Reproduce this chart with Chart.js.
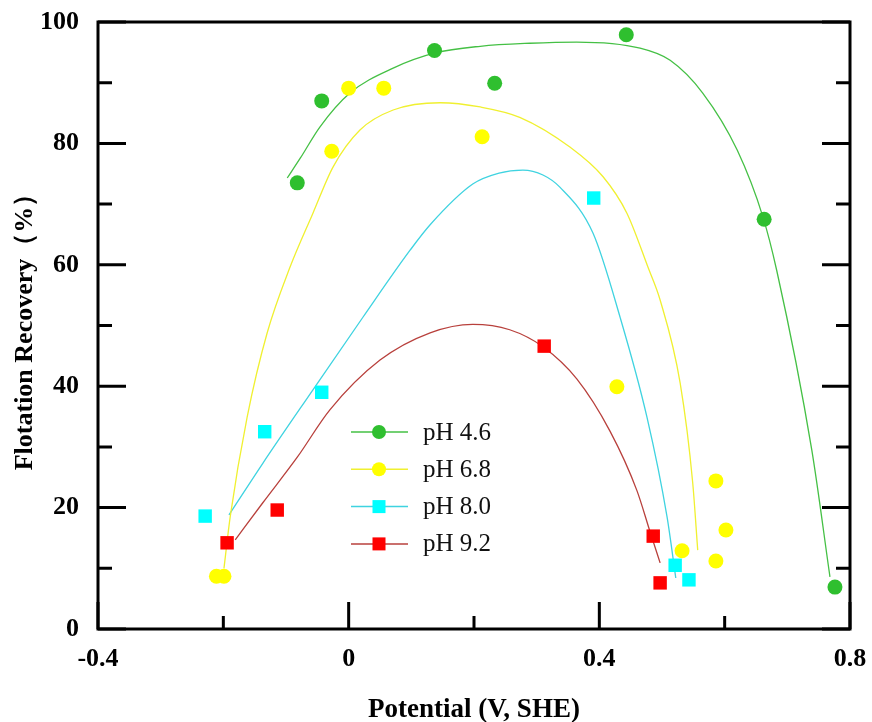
<!DOCTYPE html>
<html>
<head>
<meta charset="utf-8">
<script src="https://cdn.jsdelivr.net/npm/chart.js@4/dist/chart.umd.min.js"></script>
<style>
  html, body { margin: 0; padding: 0; background: #fff; }
  #wrap { width: 872px; height: 722px; }
</style>
</head>
<body>
<div id="wrap"><canvas id="chart" width="872" height="722"></canvas></div>
<script>
// measured recovery, one pair of arrays per pH
var ph46X = [-0.082, -0.043, 0.137, 0.233, 0.443, 0.663, 0.776];
var ph46Y = [73.5, 87.0, 95.3, 89.9, 97.9, 67.5, 6.9];
var ph68X = [-0.211, -0.199, -0.027, 0.0, 0.056, 0.213, 0.428, 0.532, 0.586, 0.586, 0.602];
var ph68Y = [8.7, 8.7, 78.7, 89.1, 89.1, 81.1, 39.9, 12.9, 11.2, 24.4, 16.3];
var ph80X = [-0.229, -0.134, -0.043, 0.391, 0.521, 0.543];
var ph80Y = [18.6, 32.5, 39.0, 71.0, 10.5, 8.1];
var ph92X = [-0.194, -0.114, 0.312, 0.486, 0.497];
var ph92Y = [14.2, 19.6, 46.6, 15.3, 7.6];

// fitted curves
var fit46X = [-0.098, -0.077, -0.046, 0.002, 0.071, 0.138, 0.210, 0.289, 0.364, 0.465, 0.513, 0.565, 0.620, 0.661, 0.683, 0.739, 0.768];
var fit46Y = [74.3, 77.6, 82.7, 88.3, 92.4, 94.9, 96.0, 96.5, 96.7, 95.7, 93.7, 88.3, 78.9, 67.9, 59.1, 29.5, 8.6];
var fit68X = [-0.199, -0.189, -0.162, -0.130, -0.094, -0.057, -0.025, 0.018, 0.071, 0.146, 0.210, 0.273, 0.353, 0.406, 0.444, 0.478, 0.497, 0.529, 0.549, 0.557];
var fit68Y = [10.0, 18.5, 34.9, 48.8, 59.5, 68.5, 76.1, 82.2, 85.5, 86.7, 86.0, 84.3, 79.4, 74.5, 68.5, 59.5, 54.2, 40.5, 24.1, 13.0];
var fit80X = [-0.191, -0.137, -0.057, 0.023, 0.098, 0.130, 0.198, 0.240, 0.278, 0.310, 0.337, 0.390, 0.433, 0.476, 0.508, 0.522];
var fit80Y = [18.8, 27.3, 39.4, 51.4, 62.4, 66.6, 73.3, 75.1, 75.6, 74.8, 72.8, 65.2, 51.4, 34.9, 18.5, 8.4];
var fit92X = [-0.181, -0.137, -0.082, -0.030, 0.050, 0.130, 0.198, 0.257, 0.310, 0.364, 0.417, 0.460, 0.481, 0.497];
var fit92Y = [14.7, 20.8, 28.3, 36.1, 44.3, 48.8, 50.2, 49.3, 46.5, 41.2, 32.6, 22.8, 16.0, 10.9];

var seriesNames = ['pH 4.6', 'pH 6.8', 'pH 8.0', 'pH 9.2'];
var xTicks = [-0.4, 0, 0.4, 0.8];
var xMinor = [-0.2, 0.2, 0.6];
var yTicks = [0, 20, 40, 60, 80, 100];
var yMinor = [10, 30, 50, 70, 90];

var dotColors = ['#2fbf2f', '#ffff00', '#00ffff', '#ff0000'];
var lineColors = ['#45c045', '#f0f030', '#3fd3e0', '#b8403c'];
var markers = ['circle', 'circle', 'rect', 'rect'];

function zip(xs, ys) {
  return xs.map(function(v, i) { return {x: v, y: ys[i]}; });
}

var points = [zip(ph46X, ph46Y), zip(ph68X, ph68Y), zip(ph80X, ph80Y), zip(ph92X, ph92Y)];
var curves = [zip(fit46X, fit46Y), zip(fit68X, fit68Y), zip(fit80X, fit80Y), zip(fit92X, fit92Y)];

var datasets = [];
// markers first so they sit on top of the lines
points.forEach(function(d, i) {
  datasets.push({
    label: seriesNames[i],
    data: d,
    showLine: false,
    pointStyle: markers[i],
    pointRadius: markers[i] == 'rect' ? 9.5 : 7.5,
    pointBackgroundColor: dotColors[i],
    pointBorderWidth: 0,
    pointBorderColor: dotColors[i]
  });
});
curves.forEach(function(d, i) {
  datasets.push({
    label: seriesNames[i] + ' fit',
    data: d,
    showLine: true,
    borderColor: lineColors[i],
    borderWidth: 1.3,
    pointRadius: 0,
    cubicInterpolationMode: 'monotone'
  });
});

// box + inward ticks on left, bottom and right
var frameTicks = {
  id: 'frameTicks',
  afterDatasetsDraw: function(chart) {
    var ctx = chart.ctx, a = chart.chartArea;
    var x = chart.scales.x, y = chart.scales.y;
    ctx.save();
    ctx.strokeStyle = '#000';
    ctx.lineWidth = 3;
    ctx.beginPath();
    yTicks.concat(yMinor).forEach(function(v) {
      var len = yTicks.indexOf(v) >= 0 ? 28 : 14;
      var py = y.getPixelForValue(v);
      ctx.moveTo(a.left, py); ctx.lineTo(a.left + len, py);
      ctx.moveTo(a.right, py); ctx.lineTo(a.right - len, py);
    });
    xTicks.concat(xMinor).forEach(function(v) {
      var len = xTicks.indexOf(v) >= 0 ? 27 : 13;
      var px = x.getPixelForValue(v);
      ctx.moveTo(px, a.bottom); ctx.lineTo(px, a.bottom - len);
    });
    ctx.stroke();
    ctx.strokeRect(a.left, a.top, a.right - a.left, a.bottom - a.top);
    ctx.restore();
  }
};

// legend inside the plot: line with marker, then the label
var innerLegend = {
  id: 'innerLegend',
  afterDraw: function(chart) {
    var ctx = chart.ctx;
    var lx = 351, rowY = 432, gap = 37.3;
    ctx.save();
    seriesNames.forEach(function(name, i) {
      var cy = rowY + i * gap;
      ctx.strokeStyle = lineColors[i];
      ctx.lineWidth = 1.5;
      ctx.beginPath();
      ctx.moveTo(lx, cy); ctx.lineTo(lx + 57, cy);
      ctx.stroke();
      ctx.fillStyle = dotColors[i];
      if (markers[i] == 'rect') {
        ctx.fillRect(lx + 28 - 6.5, cy - 6.5, 13, 13);
      } else {
        ctx.beginPath();
        ctx.arc(lx + 28, cy, 7, 0, Math.PI * 2);
        ctx.fill();
      }
      ctx.fillStyle = '#111';
      ctx.font = '25px "Liberation Serif", "Times New Roman", serif';
      ctx.textBaseline = 'middle';
      ctx.fillText(name, lx + 72, cy + 1);
    });
    ctx.restore();
  }
};

var tickFont = {family: '"Liberation Serif", "Times New Roman", serif', size: 26, weight: 'bold'};

new Chart(document.getElementById('chart'), {
  type: 'scatter',
  data: {datasets: datasets},
  options: {
    responsive: false,
    animation: false,
    layout: {padding: {top: 22, right: 22, left: 0, bottom: 0}},
    plugins: {legend: {display: false}, tooltip: {enabled: false}},
    scales: {
      x: {
        type: 'linear',
        min: -0.4,
        max: 0.8,
        afterBuildTicks: function(s) { s.ticks = xTicks.map(function(v) { return {value: v}; }); },
        afterFit: function(s) { s.height = 93; s.paddingLeft = 0; s.paddingRight = 0; },
        grid: {display: false},
        border: {display: false},
        ticks: {
          color: '#000',
          font: tickFont,
          padding: 7,
          maxRotation: 0,
          callback: function(v) { return String(Math.round(v * 10) / 10); }
        },
        title: {
          display: true,
          text: 'Potential (V, SHE)',
          color: '#000',
          font: {family: '"Liberation Serif", "Times New Roman", serif', size: 27, weight: 'bold', lineHeight: 1},
          padding: {top: 0, bottom: -2}
        }
      },
      y: {
        min: 0,
        max: 100,
        afterBuildTicks: function(s) { s.ticks = yTicks.map(function(v) { return {value: v}; }); },
        afterFit: function(s) { s.width = 98; s.paddingTop = 0; s.paddingBottom = 0; },
        grid: {display: false},
        border: {display: false},
        ticks: {color: '#000', font: tickFont, padding: 11},
        title: {
          display: true,
          text: 'Flotation Recovery（%）',
          color: '#000',
          font: {family: '"Liberation Serif", "Times New Roman", serif', size: 26, weight: 'bold', lineHeight: 1},
          padding: {top: 12, bottom: 0}
        }
      }
    }
  },
  plugins: [frameTicks, innerLegend]
});
</script>
</body>
</html>
